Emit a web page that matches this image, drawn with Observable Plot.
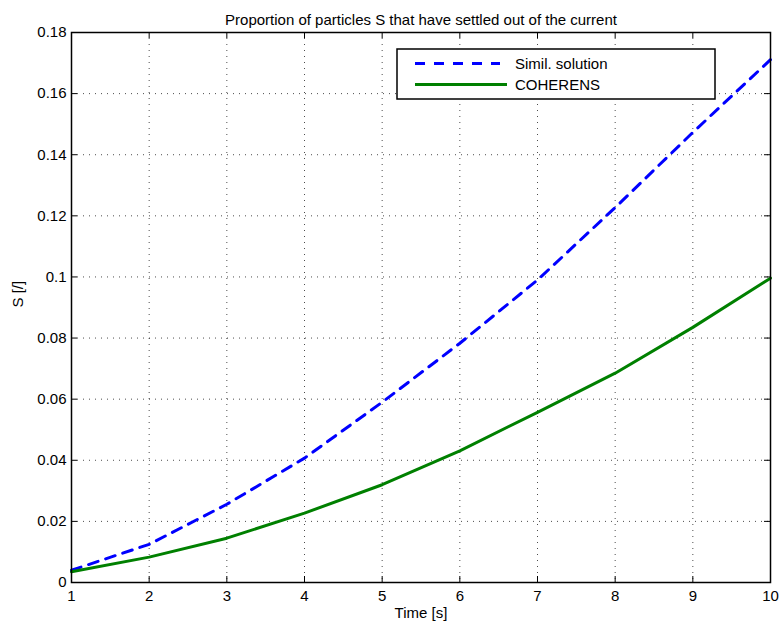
<!DOCTYPE html>
<html>
<head>
<meta charset="utf-8">
<script src="https://cdn.jsdelivr.net/npm/d3@7"></script>
<script src="https://cdn.jsdelivr.net/npm/@observablehq/plot@0.6"></script>
<style>
  html, body { margin: 0; padding: 0; background: #fff; }
  #chart svg { display: block; font-family: "Liberation Sans", Arial, Helvetica, sans-serif; }
</style>
</head>
<body>
<div id="chart"></div>
<script>
// Settled particle proportion S over time
const time = [1, 2, 3, 4, 5, 6, 7, 8, 9, 10];
const similSolution = [0.0040, 0.0125, 0.0256, 0.0407, 0.0590, 0.0783, 0.0990, 0.1227, 0.1473, 0.1711];
const coherens = [0.0035, 0.0083, 0.0145, 0.0227, 0.0320, 0.0431, 0.0557, 0.0685, 0.0835, 0.0996];

const xTicks = [1, 2, 3, 4, 5, 6, 7, 8, 9, 10];
const yTicks = [0, 0.02, 0.04, 0.06, 0.08, 0.1, 0.12, 0.14, 0.16, 0.18];

const titleText = "Proportion of particles S that have settled out of the current";
const xLabel = "Time [s]";
const yLabel = "S [/]";
const seriesNames = ["Simil. solution", "COHERENS"];

const simil = time.map((t, i) => ({t, s: similSolution[i]}));
const coh = time.map((t, i) => ({t, s: coherens[i]}));

const W = 779, H = 626;
const mL = 71, mR = 9, mT = 32, mB = 44;
const plotW = W - mL - mR, plotH = H - mT - mB;
const tickLen = 6;
const fs = 15;

const chart = Plot.plot({
  width: W,
  height: H,
  marginLeft: mL,
  marginRight: mR,
  marginTop: mT,
  marginBottom: mB,
  style: {fontSize: fs + "px", fontFamily: '"Liberation Sans", Arial, sans-serif', color: "#000"},
  x: {domain: [1, 10]},
  y: {domain: [0, 0.18]},
  marks: [
    // dotted grid
    Plot.gridX(xTicks, {stroke: "#000", strokeOpacity: 0.7, strokeDasharray: "1,5"}),
    Plot.gridY(yTicks, {stroke: "#000", strokeOpacity: 0.7, strokeDasharray: "1,5"}),
    // inward ticks on all four sides
    Plot.tickX(xTicks, {x: d => d, stroke: "#000", insetTop: plotH - tickLen}),
    Plot.tickX(xTicks, {x: d => d, stroke: "#000", insetBottom: plotH - tickLen}),
    Plot.tickY(yTicks, {y: d => d, stroke: "#000", insetRight: plotW - tickLen}),
    Plot.tickY(yTicks, {y: d => d, stroke: "#000", insetLeft: plotW - tickLen}),
    // tick labels
    Plot.axisX(xTicks, {tickSize: 0, tickPadding: 8, label: null, fontSize: fs}),
    Plot.axisY(yTicks, {tickSize: 0, tickPadding: 5, label: null, fontSize: fs,
      tickFormat: d => String(+d.toFixed(2))}),
    // data
    Plot.line(simil, {x: "t", y: "s", stroke: "#0000ff", strokeWidth: 3, strokeDasharray: "10,8"}),
    Plot.line(coh, {x: "t", y: "s", stroke: "#008000", strokeWidth: 3}),
    Plot.frame({stroke: "#000", strokeWidth: 1.5}),
    // title and axis labels
    Plot.text([titleText], {frameAnchor: "top", dy: -18, fontSize: fs, fill: "#000"}),
    Plot.text([xLabel], {frameAnchor: "bottom", dy: 35, fontSize: fs, fill: "#000"}),
    Plot.text([yLabel], {frameAnchor: "left", dx: -53, rotate: -90, fontSize: fs, fill: "#000"})
  ]
});

// Legend box in the upper right of the axes
const svg = d3.select(chart);
const lg = svg.append("g").attr("class", "legend").attr("text-anchor", "start");
const lx = 397, ly = 49, lw = 318, lh = 50;
lg.append("rect").attr("x", lx).attr("y", ly).attr("width", lw).attr("height", lh)
  .attr("fill", "#fff").attr("stroke", "#000").attr("stroke-width", 1.5);
const entries = [
  {name: seriesNames[0], color: "#0000ff", dash: "10,9", y: ly + 14.5, x2: lx + 103},
  {name: seriesNames[1], color: "#008000", dash: null, y: ly + 35.5, x2: lx + 110}
];
for (const e of entries) {
  lg.append("line").attr("x1", lx + 18).attr("x2", e.x2).attr("y1", e.y).attr("y2", e.y)
    .attr("stroke", e.color).attr("stroke-width", 3)
    .attr("stroke-dasharray", e.dash);
  lg.append("text").attr("x", lx + 118).attr("y", e.y).attr("dy", "0.35em")
    .attr("text-anchor", "start")
    .attr("font-size", fs).attr("fill", "#000").text(e.name);
}

document.getElementById("chart").appendChild(chart);
</script>
</body>
</html>
